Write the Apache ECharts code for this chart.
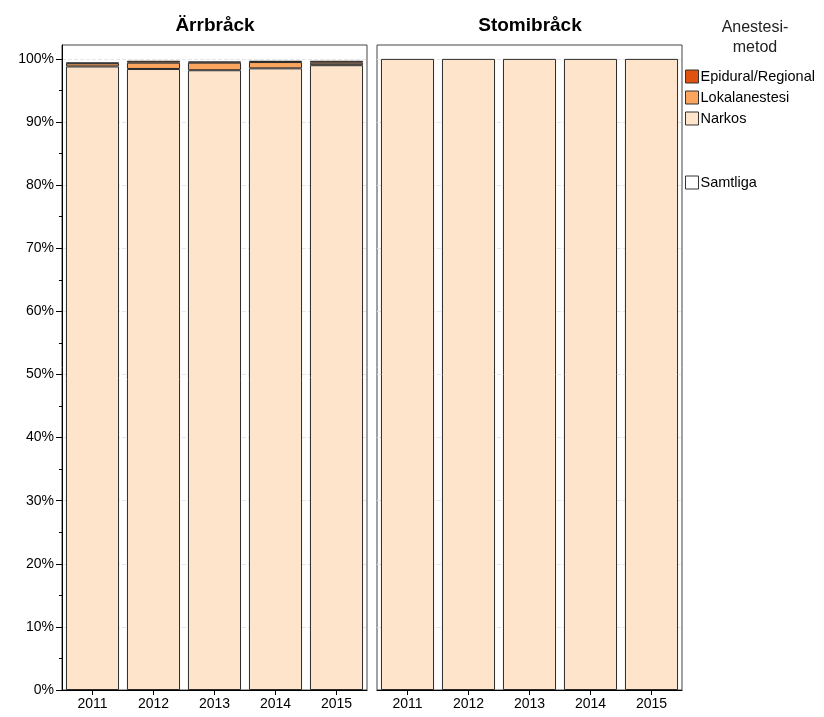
<!DOCTYPE html>
<html><head><meta charset="utf-8">
<script src="https://cdn.jsdelivr.net/npm/echarts@6/dist/echarts.min.js"></script>
<style>html,body{margin:0;padding:0;background:#fff}#c{width:824px;height:717px}</style>
</head><body><div id="c"></div>
<script>
const years = ['2011', '2012', '2013', '2014', '2015'];
const panels = ['Ärrbråck', 'Stomibråck'];
const arrNarkos = [98.8, 98.4, 98.2, 98.5, 99.0];
const arrLokal = [0.5, 1.0, 1.2, 1.0, 0.4];
const arrEpidural = [0.1, 0.3, 0.2, 0.2, 0.3];
const stoNarkos = [100, 100, 100, 100, 100];
const stoLokal = [0, 0, 0, 0, 0];
const stoEpidural = [0, 0, 0, 0, 0];
const majorTicks = [0, 10, 20, 30, 40, 50, 60, 70, 80, 90, 100];
const minorTicks = [5, 15, 25, 35, 45, 55, 65, 75, 85, 95];
const legendTitle = 'Anestesi-\nmetod';
const seriesNames = ['Epidural/Regional', 'Lokalanestesi', 'Narkos'];
const totalName = 'Samtliga';

const colors = {'Narkos': '#FDE4CA', 'Lokalanestesi': '#FBA55E', 'Epidural/Regional': '#E0530F'};
const font = 'Liberation Sans, Arial, sans-serif';
const yMax = 102.2;

const chart = echarts.init(document.getElementById('c'));

const grids = [
  {left: 62, top: 45, width: 305, height: 645, show: true, borderColor: '#444', borderWidth: 1, backgroundColor: '#fff'},
  {left: 377, top: 45, width: 305, height: 645, show: true, borderColor: '#444', borderWidth: 1, backgroundColor: '#fff'}
];

const xAxes = [0, 1].map(i => ({
  type: 'category', gridIndex: i, data: years,
  axisLine: {show: true, lineStyle: {color: '#000', width: 1}},
  axisTick: {show: true, alignWithLabel: true, length: 5, lineStyle: {color: '#000'}},
  axisLabel: {color: '#000', fontSize: 14, fontFamily: font, margin: 7}
}));

const gridLine = {show: true, customValues: majorTicks, lineStyle: {color: '#e6e6e6', type: 'dashed'}};

const yAxes = [
  {type: 'value', gridIndex: 0, min: 0, max: yMax, interval: 10,
   axisLine: {show: true, lineStyle: {color: '#000'}},
   axisTick: {show: true, length: 6, customValues: majorTicks, lineStyle: {color: '#000'}},
   axisLabel: {color: '#000', fontSize: 14, fontFamily: font, margin: 8, customValues: majorTicks, formatter: v => v + '%'},
   splitLine: gridLine},
  {type: 'value', gridIndex: 0, min: 0, max: yMax, position: 'left',
   axisLine: {show: false},
   axisTick: {show: true, length: 3, customValues: minorTicks, lineStyle: {color: '#000'}},
   axisLabel: {show: false}, splitLine: {show: false}},
  {type: 'value', gridIndex: 1, min: 0, max: yMax, interval: 10,
   axisLine: {show: false}, axisTick: {show: false, customValues: majorTicks}, axisLabel: {show: false},
   splitLine: gridLine}
];

const dataByPanel = [
  {'Narkos': arrNarkos, 'Lokalanestesi': arrLokal, 'Epidural/Regional': arrEpidural},
  {'Narkos': stoNarkos, 'Lokalanestesi': stoLokal, 'Epidural/Regional': stoEpidural}
];
const series = [];
[0, 1].forEach(p => {
  ['Narkos', 'Lokalanestesi', 'Epidural/Regional'].forEach(name => {
    series.push({
      name, type: 'bar', stack: 'p' + p, xAxisIndex: p, yAxisIndex: p === 0 ? 0 : 2,
      data: dataByPanel[p][name].map(v => v === 0 ? '-' : v),
      barCategoryGap: '13%',
      itemStyle: {color: colors[name], borderColor: '#2a2a2a', borderWidth: 1},
      emphasis: {disabled: true}, animation: false
    });
  });
});
series.push({name: totalName, type: 'bar', stack: 'p0', xAxisIndex: 0, yAxisIndex: 0, data: [],
  itemStyle: {color: '#fff', borderColor: '#000', borderWidth: 1}});

const legendText = {fontSize: 14.5, color: '#000', fontFamily: font, padding: [0, 0, 0, -3]};

chart.setOption({
  animation: false,
  grid: grids,
  xAxis: xAxes,
  yAxis: yAxes,
  title: [
    {text: panels[0], left: 215, top: 16, padding: 0, textAlign: 'center', textStyle: {fontSize: 19, fontWeight: 'bold', color: '#000', fontFamily: font}},
    {text: panels[1], left: 530, top: 16, padding: 0, textAlign: 'center', textStyle: {fontSize: 19, fontWeight: 'bold', color: '#000', fontFamily: font}},
    {text: legendTitle, left: 755, top: 18, padding: 0, textAlign: 'center', textStyle: {fontSize: 16, fontWeight: 'normal', color: '#222', fontFamily: font, lineHeight: 20}}
  ],
  legend: [
    {data: seriesNames, orient: 'vertical', left: 685, top: 69, padding: 0, itemWidth: 13, itemHeight: 13, itemGap: 6,
     icon: 'rect', selectedMode: false, textStyle: legendText,
     itemStyle: {borderColor: '#333', borderWidth: 1}},
    {data: [totalName], orient: 'vertical', left: 685, top: 175, padding: 0, itemWidth: 13, itemHeight: 13,
     icon: 'rect', selectedMode: false, textStyle: legendText,
     itemStyle: {borderColor: '#333', borderWidth: 1}}
  ],
  series
});
</script></body></html>
